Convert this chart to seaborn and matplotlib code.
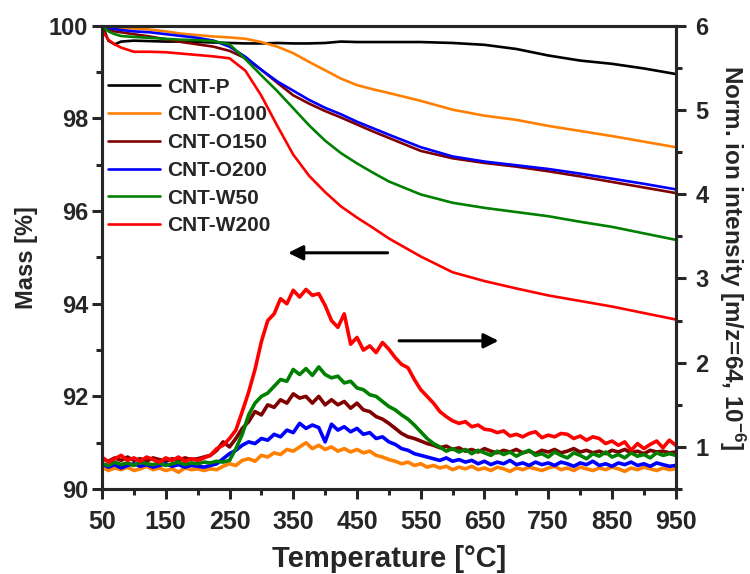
import numpy as np
import pandas as pd
import matplotlib
matplotlib.use("Agg")
import matplotlib.pyplot as plt
from matplotlib.ticker import MultipleLocator, FixedLocator
import seaborn as sns

# ---------------- data ----------------
names = ["CNT-P", "CNT-O100", "CNT-O150", "CNT-O200", "CNT-W50", "CNT-W200"]
colors = ["#000000", "#FF8000", "#800000", "#0000FF", "#008000", "#FF0000"]

T_tg = [50, 55, 60, 70, 80, 100, 125, 150, 175, 200, 225, 250, 275, 300, 325, 350,
        375, 400, 425, 450, 475, 500, 550, 600, 650, 700, 750, 800, 850, 900, 950]

mass_P = [100.0, 99.85, 99.68, 99.6, 99.66, 99.68, 99.67, 99.66, 99.66, 99.65, 99.64,
          99.63, 99.62, 99.62, 99.63, 99.62, 99.62, 99.63, 99.66, 99.65, 99.65, 99.65,
          99.65, 99.63, 99.59, 99.5, 99.36, 99.25, 99.18, 99.08, 98.96]
mass_O100 = [100.0, 99.99, 99.98, 99.97, 99.96, 99.94, 99.92, 99.88, 99.83, 99.8, 99.77,
             99.75, 99.72, 99.65, 99.55, 99.41, 99.22, 99.04, 98.86, 98.72, 98.63, 98.55,
             98.38, 98.19, 98.06, 97.97, 97.84, 97.73, 97.62, 97.5, 97.38]
mass_O150 = [100.0, 99.96, 99.92, 99.88, 99.86, 99.82, 99.77, 99.71, 99.65, 99.6, 99.55,
             99.46, 99.3, 99.05, 98.77, 98.5, 98.32, 98.16, 98.02, 97.87, 97.72, 97.58,
             97.3, 97.14, 97.04, 96.96, 96.86, 96.75, 96.63, 96.51, 96.39]
mass_O200 = [100.0, 99.98, 99.96, 99.93, 99.91, 99.88, 99.86, 99.82, 99.78, 99.74, 99.68,
             99.55, 99.33, 99.05, 98.8, 98.6, 98.4, 98.23, 98.09, 97.93, 97.79, 97.65,
             97.38, 97.18, 97.07, 96.99, 96.91, 96.81, 96.7, 96.59, 96.47]
mass_W50 = [100.0, 99.94, 99.88, 99.82, 99.78, 99.76, 99.74, 99.72, 99.7, 99.69, 99.67,
            99.6, 99.28, 98.93, 98.59, 98.22, 97.85, 97.52, 97.25, 97.03, 96.83, 96.64,
            96.36, 96.18, 96.07, 95.98, 95.89, 95.77, 95.66, 95.52, 95.38]
mass_W200 = [99.95, 99.8, 99.7, 99.6, 99.53, 99.44, 99.44, 99.43, 99.4, 99.37, 99.34,
             99.3, 99.03, 98.49, 97.84, 97.22, 96.76, 96.41, 96.1, 95.86, 95.64, 95.41,
             95.02, 94.68, 94.49, 94.33, 94.18, 94.06, 93.94, 93.8, 93.66]

T_ion = np.arange(50, 951, 10)

ion_O100 = [.76, .72, .75, .73, .76, .72, .74, .77, .73, .75, .72, .74, .70, .75, .73, .74,
            .72, .74, .73, .77, .80, .78, .84, .86, .83, .90, .88, .93, .91, .97, .95, 1.0,
            1.05, .98, 1.02, .97, 1.0, .95, .98, .94, .97, .93, .95, .90, .88, .85, .83, .80,
            .82, .78, .80, .76, .78, .75, .77, .73, .76, .74, .77, .73, .75, .72, .76, .74,
            .71, .75, .73, .76, .74, .72, .75, .77, .73, .75, .72, .76, .74, .72, .75, .73,
            .76, .74, .71, .75, .73, .76, .74, .72, .75, .73, .74]
ion_O150 = [.86, .83, .87, .84, .88, .84, .86, .83, .87, .85, .83, .86, .84, .87, .85, .86,
            .88, .90, .96, 1.06, 1.0, 1.1, 1.22, 1.3, 1.42, 1.38, 1.5, 1.47, 1.56, 1.52, 1.63,
            1.58, 1.6, 1.52, 1.6, 1.5, 1.56, 1.5, 1.54, 1.46, 1.52, 1.44, 1.42, 1.36, 1.33,
            1.28, 1.22, 1.16, 1.12, 1.1, 1.07, 1.04, 1.02, .99, 1.01, .97, .99, .95, .97, .94,
            .98, .95, .93, .96, .94, .97, .93, .95, .92, .96, .94, .97, .93, .95, .98, .94,
            .96, .93, .95, .92, .96, .94, .97, .93, .95, .92, .96, .94, .95, .93, .94]
ion_O200 = [.80, .76, .79, .75, .78, .80, .77, .79, .76, .78, .80, .77, .79, .76, .78, .77,
            .76, .78, .80, .86, .92, .96, 1.02, 1.06, 1.04, 1.1, 1.08, 1.15, 1.12, 1.2, 1.17,
            1.28, 1.22, 1.26, 1.23, 1.06, 1.27, 1.2, 1.24, 1.18, 1.22, 1.15, 1.17, 1.1, 1.12,
            1.06, 1.03, .98, .96, .92, .90, .88, .86, .84, .87, .83, .85, .82, .84, .80, .83,
            .79, .82, .80, .84, .79, .81, .78, .82, .79, .81, .78, .82, .80, .77, .81, .79,
            .83, .78, .80, .77, .81, .79, .82, .78, .80, .77, .81, .79, .77, .78]
ion_W50 = [.80, .78, .82, .79, .81, .78, .82, .80, .79, .81, .78, .80, .82, .79, .81, .80,
           .82, .81, .83, .82, .84, .98, 1.15, 1.38, 1.52, 1.6, 1.64, 1.72, 1.8, 1.78, 1.92,
           1.86, 1.93, 1.85, 1.95, 1.86, 1.82, 1.84, 1.76, 1.78, 1.7, 1.68, 1.62, 1.6, 1.54,
           1.48, 1.44, 1.38, 1.33, 1.26, 1.18, 1.1, 1.04, 1.0, .95, .98, .94, .97, .92, .96,
           .93, .90, .95, .91, .94, .89, .93, .96, .90, .92, .88, .94, .90, .87, .93, .90,
           .86, .92, .89, .94, .88, .91, .87, .93, .89, .91, .87, .93, .90, .92, .90]
ion_W200 = [.88, .82, .86, .90, .84, .87, .83, .88, .85, .82, .87, .84, .88, .83, .86, .84,
            .87, .90, .98, 1.02, 1.1, 1.2, 1.42, 1.65, 1.92, 2.25, 2.5, 2.58, 2.76, 2.7, 2.86,
            2.78, 2.87, 2.8, 2.82, 2.68, 2.5, 2.42, 2.58, 2.22, 2.3, 2.15, 2.2, 2.12, 2.24,
            2.16, 2.06, 1.98, 1.94, 1.8, 1.68, 1.6, 1.52, 1.42, 1.36, 1.31, 1.28, 1.3, 1.24,
            1.26, 1.21, 1.2, 1.17, 1.19, 1.13, 1.15, 1.12, 1.16, 1.18, 1.11, 1.14, 1.12, 1.16,
            1.15, 1.1, 1.13, 1.08, 1.12, 1.1, 1.04, 1.07, 1.02, 1.06, .96, 1.04, .98, 1.03,
            1.07, .99, 1.08, 1.02]

mass_series = [mass_P, mass_O100, mass_O150, mass_O200, mass_W50, mass_W200]
ion_series = {"CNT-O100": ion_O100, "CNT-O150": ion_O150, "CNT-O200": ion_O200,
              "CNT-W50": ion_W50, "CNT-W200": ion_W200}

x_ticks = [50, 150, 250, 350, 450, 550, 650, 750, 850, 950]

# ---------------- style ----------------
sns.set_style("ticks")
plt.rcParams["font.family"] = ["Liberation Sans", "DejaVu Sans"]
plt.rcParams["font.weight"] = "bold"
plt.rcParams["mathtext.fontset"] = "custom"
plt.rcParams["mathtext.rm"] = "Liberation Sans:bold"
plt.rcParams["mathtext.bf"] = "Liberation Sans:bold"
plt.rcParams["mathtext.default"] = "bf"

fig = plt.figure(figsize=(7.5, 5.74), dpi=100)
ax = fig.add_axes([0.136, 0.148, 0.901 - 0.136, 0.955 - 0.148])
ax2 = ax.twinx()

for name, c, m in zip(names, colors, mass_series):
    sns.lineplot(x=T_tg, y=m, ax=ax, color=c, lw=1.9, label=name)

for name, c in zip(names, colors):
    if name in ion_series:
        sns.lineplot(x=T_ion, y=ion_series[name], ax=ax2, color=c, lw=2.6, legend=False)

ax.set_xlim(50, 950)
ax.set_ylim(90, 100)

ax.xaxis.set_major_locator(FixedLocator(x_ticks))
ax.xaxis.set_minor_locator(MultipleLocator(50))
ax.yaxis.set_major_locator(MultipleLocator(2))
ax.yaxis.set_minor_locator(MultipleLocator(1))
ax2.yaxis.set_major_locator(MultipleLocator(1))
ax2.yaxis.set_minor_locator(MultipleLocator(0.5))
ax2.set_ylim(0.5, 6)

for a in (ax, ax2):
    for s in a.spines.values():
        s.set_linewidth(2.2)
ax.tick_params(axis="both", which="major", direction="out", length=7, width=2.2)
ax.tick_params(axis="both", which="minor", direction="out", length=4, width=2.2)
ax.tick_params(axis="y", which="major", labelsize=17, pad=3)
ax.tick_params(axis="x", which="major", labelsize=18, pad=8)
ax.tick_params(top=False, which="both")
ax2.tick_params(axis="y", which="major", direction="out", length=7, width=2.2, labelsize=17, pad=7)
ax2.tick_params(axis="y", which="minor", direction="out", length=4, width=2.2)

for lab in ax.get_xticklabels() + ax.get_yticklabels() + ax2.get_yticklabels():
    lab.set_fontweight("bold")

ax.set_xlabel("Temperature [°C]", fontsize=21, fontweight="bold", labelpad=8)
ax.set_ylabel("Mass [%]", fontsize=17, fontweight="bold", labelpad=8)
ax2.set_ylabel("Norm. ion intensity [m/z=64, 10$^{-6}$]", fontsize=17.5,
               fontweight="bold", rotation=270, labelpad=28)

leg = ax.legend(loc="upper left", bbox_to_anchor=(0.0105, 0.888), frameon=False,
                borderpad=0, borderaxespad=0, handlelength=2.5, handletextpad=0.35,
                labelspacing=0.42, prop={"weight": "bold", "size": 15})

# arrows
ax.annotate("", xy=(342, 95.1), xytext=(498, 95.1),
            arrowprops=dict(arrowstyle="-|>", lw=2.2, color="k", mutation_scale=22,
                            shrinkA=0, shrinkB=0))
ax2.annotate("", xy=(672, 2.26), xytext=(516, 2.26),
             arrowprops=dict(arrowstyle="-|>", lw=2.2, color="k", mutation_scale=22,
                             shrinkA=0, shrinkB=0))

fig.savefig("out.png", dpi=100)
